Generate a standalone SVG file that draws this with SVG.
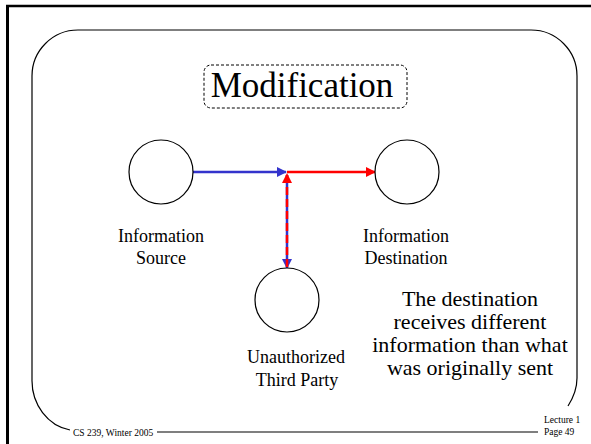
<svg xmlns="http://www.w3.org/2000/svg" width="591" height="444" viewBox="0 0 591 444">
  <defs>
    <style>
      .frame { fill: none; stroke: #000; }
      .panel { fill: none; stroke: #000; stroke-width: 1.2; }
      .node { fill: #fff; stroke: #000; stroke-width: 1.2; }
      .label { font-family: "Liberation Serif", "Times New Roman", serif; fill: #000; text-anchor: middle; }
      .foot { font-family: "Liberation Serif", "Times New Roman", serif; fill: #000; font-size: 9.5px; }
      .blue { stroke: #3333cc; stroke-width: 2.5; fill: none; }
      .red { stroke: #ff0000; stroke-width: 2.5; fill: none; }
    </style>
    <marker id="ah-blue" viewBox="0 0 10 10" refX="9" refY="5" markerWidth="4" markerHeight="4" orient="auto" markerUnits="strokeWidth">
      <path d="M0,0 L10,5 L0,10 z" fill="#3333cc"/>
    </marker>
    <marker id="ah-red" viewBox="0 0 10 10" refX="9" refY="5" markerWidth="4" markerHeight="4" orient="auto" markerUnits="strokeWidth">
      <path d="M0,0 L10,5 L0,10 z" fill="#ff0000"/>
    </marker>
  </defs>

  <rect x="0" y="0" width="591" height="444" fill="#fff"/>

  <!-- slide frame -->
  <line class="frame" x1="7.5" y1="5" x2="7.5" y2="444" stroke-width="3"/>
  <line class="frame" x1="6" y1="6" x2="591" y2="6" stroke-width="2.5"/>

  <!-- rounded panel outline, broken by the footer texts -->
  <path class="panel" d="M70,430 A46,50 0 0 1 32,380 V76 A46,46 0 0 1 78,30 H531 A46,46 0 0 1 577,76 V378 Q577,392 568,406"/>
  <line class="panel" x1="157" y1="432" x2="538" y2="432"/>

  <!-- title -->
  <g id="title">
    <rect x="204" y="65" width="203" height="43" rx="7" ry="7" fill="none" stroke="#000" stroke-width="1" stroke-dasharray="3,2"/>
    <text class="label" x="302" y="97" font-size="35">Modification</text>
  </g>

  <!-- connectors -->
  <g id="connectors">
    <line class="blue" x1="193" y1="172" x2="286" y2="172" marker-end="url(#ah-blue)"/>
    <line class="red" x1="287" y1="172" x2="375" y2="172" marker-end="url(#ah-red)"/>
    <line class="blue" x1="287" y1="175" x2="287" y2="268" marker-end="url(#ah-blue)"/>
    <line class="red" x1="287" y1="267" x2="287" y2="174" stroke-dasharray="8,4" marker-end="url(#ah-red)"/>
  </g>

  <g id="source">
    <circle class="node" cx="161" cy="172" r="32"/>
    <text class="label" x="161" y="242" font-size="18">Information</text>
    <text class="label" x="161" y="264" font-size="18">Source</text>
  </g>

  <g id="destination">
    <circle class="node" cx="407" cy="172" r="32"/>
    <text class="label" x="406" y="242" font-size="18">Information</text>
    <text class="label" x="406" y="264" font-size="18">Destination</text>
  </g>

  <g id="third-party">
    <circle class="node" cx="287" cy="300" r="32"/>
    <text class="label" x="296" y="363" font-size="18">Unauthorized</text>
    <text class="label" x="297" y="386" font-size="18">Third Party</text>
  </g>

  <g id="note">
    <text class="label" x="470" y="306" font-size="22">The destination</text>
    <text class="label" x="470" y="329" font-size="22">receives different</text>
    <text class="label" x="470" y="352" font-size="22">information than what</text>
    <text class="label" x="470" y="375" font-size="22">was originally sent</text>
  </g>

  <!-- footer -->
  <g id="footer">
    <text class="foot" x="73" y="436">CS 239, Winter 2005</text>
    <text class="foot" x="544" y="423">Lecture 1</text>
    <text class="foot" x="544" y="435">Page 49</text>
  </g>
</svg>
